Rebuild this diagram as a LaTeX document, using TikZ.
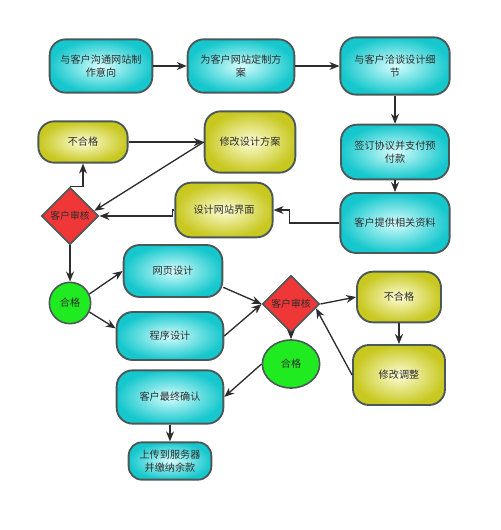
\documentclass[tikz,border=0pt]{standalone}
\usepackage{fontspec}
\setmainfont{Noto Sans CJK SC}
\usepackage{tikz}
\usepackage{xcolor}
\usetikzlibrary{shapes.geometric,arrows.meta}
\definecolor{cyanout}{RGB}{22,200,205}
\definecolor{cyanin}{RGB}{215,253,253}
\definecolor{yelout}{RGB}{200,200,32}
\definecolor{yelin}{RGB}{253,253,215}
\definecolor{redfill}{RGB}{240,55,55}
\definecolor{greenfill}{RGB}{32,235,32}
\definecolor{edgegray}{RGB}{75,88,88}
\definecolor{txtgray}{RGB}{45,45,45}
\tikzset{every picture/.style={line width=0.75pt}}
\tikzset{
  cyanbox/.style={draw=edgegray, line width=1.4pt, rounded corners=12pt, inner color=cyanin, outer color=cyanout, align=center, text=txtgray, font=\fontsize{7.6}{10}\selectfont, inner sep=1pt},
  yelbox/.style={cyanbox, inner color=yelin, outer color=yelout},
  checknode/.style={diamond, aspect=1, draw=edgegray, line width=1.2pt, fill=redfill, text=txtgray, font=\fontsize{7.4}{10}\selectfont, inner sep=0pt, minimum width=43pt, minimum height=43pt},
  passnode/.style={ellipse, draw=edgegray, line width=1.2pt, fill=greenfill, text=txtgray, font=\fontsize{7.6}{10}\selectfont, inner sep=0pt},
  flowarrow/.style={draw=txtgray, line width=1pt, -{Stealth[length=7.5pt,width=6pt]}}
}

\begin{document}
\begin{tikzpicture}[x=0.75pt,y=0.75pt,yscale=-1,xscale=1]
\useasboundingbox (0,0) rectangle (500,530);

%Shape: Rounded Rectangle, first row
\node[cyanbox, minimum width=77pt, minimum height=40pt] (intent) at (101,66) {与客户沟通网站制\\作意向};
\node[cyanbox, minimum width=80pt, minimum height=40pt] (plan) at (241,66) {为客户网站定制方\\案};
\node[cyanbox, minimum width=82pt, minimum height=43pt] (detail) at (395,66) {与客户洽谈设计细\\节};

%Shape: Rounded Rectangle, second row
\node[yelbox, minimum width=67pt, minimum height=31pt] (fail1) at (83,142) {不合格};
\node[yelbox, minimum width=68pt, minimum height=46pt] (revise) at (250,142) {修改设计方案};
\node[cyanbox, minimum width=81pt, minimum height=41pt] (sign) at (395,152) {签订协议并支付预\\付款};

%Shape: Diamond and Rounded Rectangle, third row
\node[checknode] (check1) at (70,216) {客户审核};
\node[yelbox, minimum width=73pt, minimum height=41pt] (layout) at (224,210) {设计网站界面};
\node[cyanbox, minimum width=82pt, minimum height=45pt] (material) at (395,223) {客户提供相关资料};

%Shape: Ellipse and Rounded Rectangle, fourth row
\node[passnode, minimum width=31pt, minimum height=31pt] (pass1) at (70,303) {合格};
\node[cyanbox, minimum width=74pt, minimum height=39pt] (web) at (173,271) {网页设计};
\node[cyanbox, minimum width=80pt, minimum height=36pt] (prog) at (170,336) {程序设计};

%Shape: second check
\node[checknode] (check2) at (291,304) {客户审核};
\node[yelbox, minimum width=63pt, minimum height=38pt] (fail2) at (399,297) {不合格};
\node[passnode, minimum width=43pt, minimum height=36pt] (pass2) at (291,364) {合格};
\node[yelbox, minimum width=69pt, minimum height=45pt] (adjust) at (399,375) {修改调整};

%Shape: last row
\node[cyanbox, minimum width=80pt, minimum height=40pt] (confirm) at (170,397) {客户最终确认};
\node[cyanbox, minimum width=62pt, minimum height=28pt, rounded corners=10pt] (upload) at (170,461) {上传到服务器\\并缴纳余款};

%Straight Lines
\draw[flowarrow] (intent) -- (plan);
\draw[flowarrow] (plan) -- (detail);
\draw[flowarrow] (detail) -- (sign);
\draw[flowarrow] (sign) -- (material);
\draw[flowarrow] (material.west) -- ++(-50,0) |- (layout.east);
\draw[flowarrow] (layout.west) -- ++(-2,0) |- (check1.east);
\draw[flowarrow] (revise.west) -- (check1.12);
\draw[flowarrow] (fail1) -- (revise);
\draw[flowarrow] (check1.north) -| (fail1.south);
\draw[flowarrow] (check1) -- (pass1);
\draw[flowarrow] (pass1.25) -- (web.west);
\draw[flowarrow] (pass1.-25) -- (prog.172);
\draw[flowarrow] (web.-18) -- (check2.west);
\draw[flowarrow] (prog.east) -- (check2.west);
\draw[flowarrow] (check2.east) -- (fail2.west);
\draw[flowarrow] (fail2) -- (adjust);
\draw[flowarrow] (adjust.west) -- (check2.-10);
\draw[flowarrow] (check2) -- (pass2);
\draw[flowarrow] (pass2.west) -- (confirm.east);
\draw[flowarrow] (confirm) -- (upload);

\end{tikzpicture}
\end{document}
